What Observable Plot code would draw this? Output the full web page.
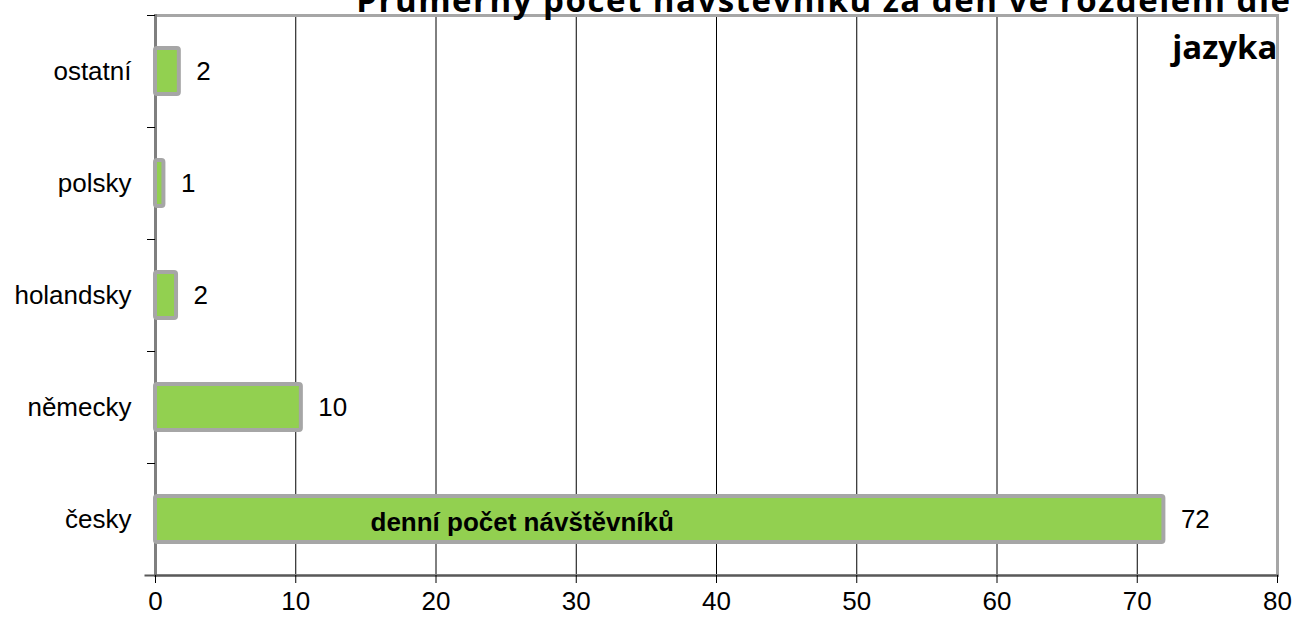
<!DOCTYPE html>
<html>
<head>
<meta charset="utf-8">
<script src="https://cdn.jsdelivr.net/npm/d3@7"></script>
<script src="https://cdn.jsdelivr.net/npm/@observablehq/plot@0.6"></script>
<style>
  html, body { margin: 0; padding: 0; background: #fff; overflow: hidden; }
  #chart svg { display: block; }
</style>
</head>
<body>
<div id="chart"></div>
<script>
const categories = ["ostatní", "polsky", "holandsky", "německy", "česky"];
const values = [1.7, 0.6, 1.5, 10.4, 71.9];
const valueLabels = ["2", "1", "2", "10", "72"];
const xTicks = [0, 10, 20, 30, 40, 50, 60, 70, 80];
const gridTicks = [10, 20, 30, 40, 50, 60, 70];
const titleLine1 = "Průměrný počet návštěvníků za den ve rozdělení dle";
const titleLine2 = "jazyka";
const seriesName = "denní počet návštěvníků";

const data = categories.map((c, i) => ({category: c, value: values[i], label: valueLabels[i]}));

const W = 1294, H = 617;
const mL = 155, mR = 17, mT = 15, mB = 42;
const band = (H - mT - mB) / categories.length;
const FS = 26;

const chart = Plot.plot({
  width: W,
  height: H,
  marginLeft: mL,
  marginRight: mR,
  marginTop: mT,
  marginBottom: mB,
  style: {fontFamily: "Liberation Sans, Arial, sans-serif", fontSize: FS + "px", color: "#000", background: "#fff", overflow: "visible"},
  x: {domain: [0, 80], ticks: xTicks},
  y: {domain: categories, padding: 0},
  marks: [
    Plot.gridX(gridTicks, {stroke: "#000", strokeOpacity: 1, strokeWidth: 1}),
    Plot.frame({stroke: "#a6a6a6", strokeWidth: 3}),
    Plot.frame({anchor: "left", stroke: "#7f7f7f", strokeWidth: 3}),
    Plot.frame({anchor: "bottom", stroke: "#595959", strokeWidth: 2, insetLeft: -10}),
    Plot.barX(data, {
      x: "value", y: "category",
      fill: "#92d050", stroke: "#a6a6a6", strokeWidth: 4, rx: 2,
      insetTop: 33, insetBottom: 33
    }),
    Plot.text(data, {
      x: "value", y: "category", text: "label",
      textAnchor: "start", dx: 17, fontSize: FS, fill: "#000"
    }),
    Plot.axisX({ticks: xTicks, tickSize: 8, tickPadding: 8, stroke: "#000", fontSize: FS, label: null}),
    Plot.axisY({tickSize: 0, tickPadding: 24, fontSize: FS, label: null}),
    Plot.axisY({tickSize: 8, text: null, dy: -band / 2, stroke: "#000", label: null}),
    Plot.text([seriesName], {
      text: d => d, frameAnchor: "bottom-left", textAnchor: "start",
      dx: 215, dy: -45, fontSize: FS, fontWeight: "bold", fill: "#000"
    }),
    Plot.text([titleLine1], {
      text: d => d, frameAnchor: "top-right", textAnchor: "end", lineAnchor: "bottom",
      dx: 14, dy: -4, fontSize: 33, fontWeight: "bold", className: "title-line1",
      fontFamily: "Open Sans, sans-serif", fill: "#000"
    }),
    Plot.text([titleLine2], {
      text: d => d, frameAnchor: "top-right", textAnchor: "end", lineAnchor: "bottom",
      dx: 0, dy: 43, fontSize: 33, fontWeight: "bold",
      fontFamily: "Open Sans, sans-serif", fill: "#000"
    })
  ]
});
d3.select(chart).selectAll(".title-line1 text").attr("letter-spacing", "1.5px");
document.getElementById("chart").appendChild(chart);
</script>
</body>
</html>
